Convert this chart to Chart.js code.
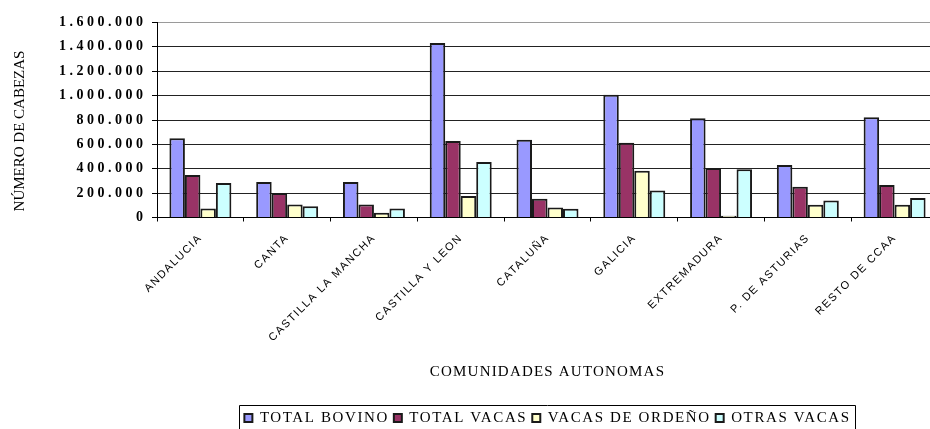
<!DOCTYPE html>
<html><head><meta charset="utf-8">
<script src="https://cdn.jsdelivr.net/npm/chart.js@4.4.1/dist/chart.umd.min.js"></script>
<style>html,body{margin:0;padding:0;overflow:hidden;background:#fff;width:930px;height:429px}canvas{display:block}</style>
</head><body>
<canvas id="c" width="945" height="429"></canvas>
<script>
const categories = ['ANDALUCIA','CANTA','CASTILLA LA MANCHA','CASTILLA Y LEON','CATALUÑA','GALICIA','EXTREMADURA','P. DE ASTURIAS','RESTO DE CCAA'];
const totalBovino   = [651000, 292000, 292000, 1431000, 638000, 1008000, 815000, 431000, 823000];
const totalVacas    = [349000, 202000, 106000,  627000, 153000,  613000, 406000, 253000, 267000];
const vacasOrdeno   = [ 74000, 106000,  38000,  177000,  82000,  384000,  14000, 104000, 104000];
const otrasVacas    = [283000,  93000,  74000,  455000,  71000,  221000, 395000, 139000, 161000];
const seriesNames   = ['TOTAL BOVINO','TOTAL VACAS','VACAS DE ORDEÑO','OTRAS VACAS'];
const seriesColors  = ['#9999FF','#993366','#FFFFCC','#CCFFFF'];
const yTickLabels   = ['0','200.000','400.000','600.000','800.000','1.000.000','1.200.000','1.400.000','1.600.000'];
const yTitle = 'NÚMERO DE CABEZAS';
const xTitle = 'COMUNIDADES AUTONOMAS';

function withSpacing(scale, method, spacing, dy) {
  const orig = scale[method];
  scale[method] = function(...args) {
    const ctx = this.ctx;
    ctx.save();
    ctx.letterSpacing = spacing;
    if (dy) ctx.translate(0, dy);
    orig.apply(this, args);
    ctx.restore();
  };
}
const stylePlugin = {
  id: 'stylePlugin',
  beforeLayout(chart) { chart.ctx.letterSpacing = '1.6px'; },
  beforeDraw(chart) {
    chart.ctx.letterSpacing = '1.6px';
    const y = chart.scales.y, x = chart.scales.x;
    if (!y._patched) { withSpacing(y, 'drawLabels', '3.5px'); withSpacing(y, 'drawTitle', '0px', 11); y._patched = true; }
    if (!x._patched) { withSpacing(x, 'drawLabels', '1.5px'); withSpacing(x, 'drawTitle', '1.2px'); x._patched = true; }
  },
  afterDraw(chart) {
    const hb = chart.legend && chart.legend.legendHitBoxes;
    if (!hb || !hb.length) return;
    const last = hb[hb.length - 1];
    const l = Math.round(hb[0].left - 5) + 0.5;
    const r = Math.round(last.left + last.width + 4) + 0.5;
    const ctx = chart.ctx;
    ctx.save();
    ctx.strokeStyle = '#000';
    ctx.lineWidth = 1;
    ctx.beginPath();
    ctx.moveTo(l, 440); ctx.lineTo(l, 405.5); ctx.lineTo(r, 405.5); ctx.lineTo(r, 440);
    ctx.stroke();
    ctx.restore();
  }
};

const seriesData = [totalBovino, totalVacas, vacasOrdeno, otrasVacas];
new Chart(document.getElementById('c'), {
  type: 'bar',
  data: {
    labels: categories,
    datasets: seriesData.map((d, i) => ({
      label: seriesNames[i],
      data: d,
      backgroundColor: seriesColors[i],
      borderColor: '#1a1a1a',
      borderWidth: 2,
      barPercentage: 1,
      categoryPercentage: 0.714
    }))
  },
  options: {
    responsive: false,
    animation: false,
    events: [],
    layout: { padding: { top: 22.5, right: 7, bottom: 0, left: 0 } },
    plugins: {
      tooltip: { enabled: false },
      legend: {
        position: 'bottom',
        fullSize: false,
        maxHeight: 23.5,
        labels: {
          boxWidth: 8,
          boxHeight: 8,
          padding: 5,
          color: '#000',
          font: { family: 'Liberation Serif', size: 15 }
        }
      }
    },
    scales: {
      x: {
        afterFit(s) { s.height = 188; },
        grid: { drawOnChartArea: false, drawTicks: true, tickLength: 4, color: '#000', tickColor: '#000' },
        border: { display: true, color: '#000', width: 1 },
        ticks: {
          autoSkip: false, maxRotation: 45, minRotation: 45, padding: 10,
          color: '#000',
          font: { family: 'Liberation Sans', size: 11 }
        },
        title: {
          display: true, text: xTitle, color: '#000',
          font: { family: 'Liberation Serif', size: 15 },
          padding: { top: 0, bottom: 24 }
        }
      },
      y: {
        min: 0, max: 1600000,
        afterFit(s) { s.width = 157; },
        grid: {
          color: (c) => (c.tick && c.tick.value === 1600000) ? '#9a9a9a' : '#222',
          tickColor: '#000', tickLength: 5, drawTicks: true, lineWidth: 1
        },
        border: { display: true, color: '#000', width: 1 },
        ticks: {
          stepSize: 200000, padding: 5.5, color: '#000',
          font: { family: 'Liberation Serif', size: 14, weight: 'bold' },
          callback: (v, i) => yTickLabels[i]
        },
        title: {
          display: true, text: yTitle, color: '#000',
          font: { family: 'Liberation Serif', size: 15 },
          padding: { top: 11, bottom: 0 }
        }
      }
    }
  },
  plugins: [stylePlugin]
});
</script>
</body></html>
